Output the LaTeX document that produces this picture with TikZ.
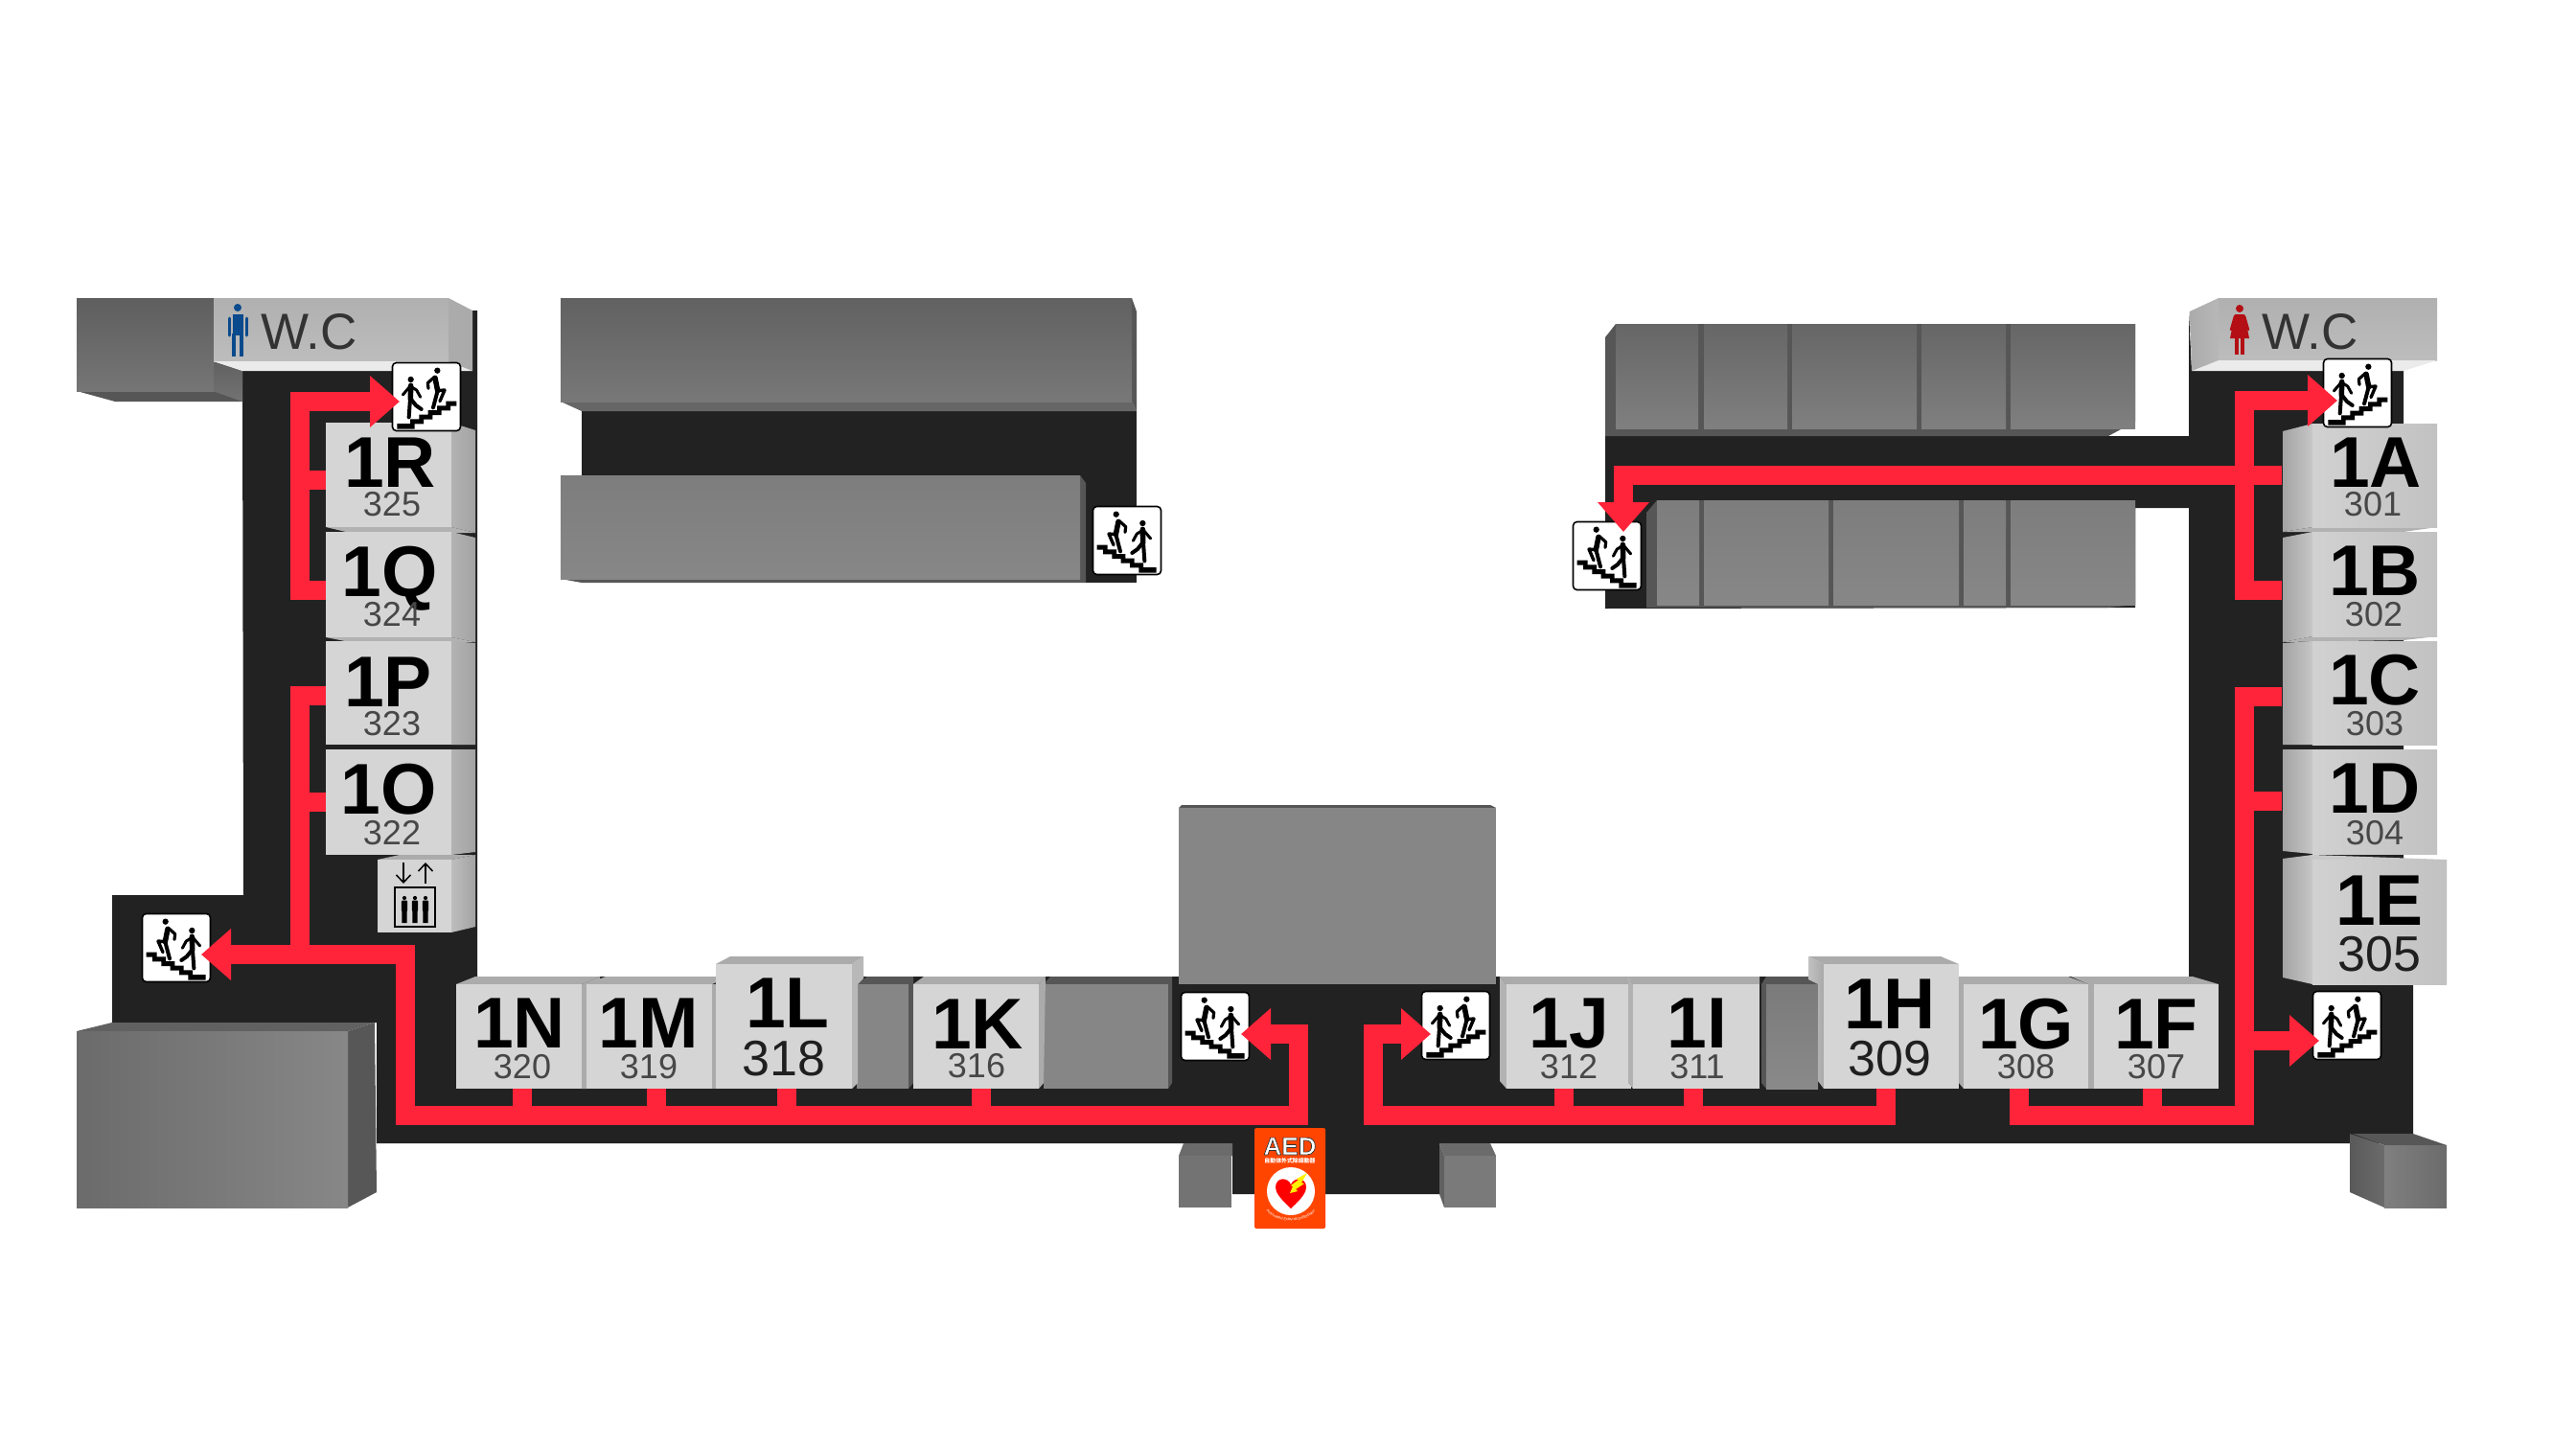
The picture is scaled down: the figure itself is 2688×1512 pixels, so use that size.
\documentclass[tikz,border=0pt]{standalone}
\usepackage{fontspec}
\setmainfont{Liberation Sans}
\newfontfamily\cjkfont{Noto Sans CJK TC}
\usetikzlibrary{arrows.meta,decorations.text}
\definecolor{floorc}{HTML}{222222}
\definecolor{routec}{HTML}{FF2439}
\definecolor{roomc}{HTML}{D5D5D5}
\definecolor{sidec}{HTML}{ABABAB}
\definecolor{darkside}{HTML}{565656}
\definecolor{midgrey}{HTML}{868686}
\definecolor{aedc}{HTML}{FF4500}
\definecolor{wcblue}{HTML}{0B4A8C}
\definecolor{wcred}{HTML}{B30F14}
\tikzset{
  roomface/.style={fill=roomc,inner sep=0pt,outer sep=0pt,anchor=north west,draw=none},
  letterlab/.style={anchor=base,inner sep=0pt,font=\bfseries\fontsize{75}{75}\selectfont,text=black},
  numlab/.style={anchor=base,inner sep=0pt,font=\fontsize{36}{36}\selectfont,text=black!72},
  bignum/.style={font=\fontsize{52}{52}\selectfont,text=black!88},
  wclab/.style={anchor=base west,inner sep=0pt,font=\fontsize{53}{53}\selectfont,text=black!80},
  signbox/.style={draw=black,line width=1.6pt,fill=white,rounded corners=4pt,minimum width=71pt,minimum height=71pt,inner sep=0pt},
  route/.style={draw=routec,line width=20pt,line cap=butt,line join=miter},
  headr/.style={-{Triangle[length=31pt,width=52pt]}},
  headl/.style={{Triangle[length=31pt,width=52pt]}-{Triangle[length=31pt,width=52pt]}},
  walkers/.pic={
    \begin{scope}[shift={(-111,-111)}]
      \fill[black] (19,195)--(60,195)--(60,181)--(88,181)--(88,167)--(116,167)--(116,153)--(144,153)--(144,139)--(172,139)--(172,125)--(205,125)--(205,140)--(186,140)--(186,154)--(158,154)--(158,168)--(130,168)--(130,182)--(102,182)--(102,196)--(74,196)--(74,212)--(19,212)--cycle;
      \fill[black] (62,57) circle (9.5) (145,29) circle (9.5);
      \draw[line width=5.5pt,line cap=round] (62,76)--(61,118);
      \draw[line width=3pt,line cap=round,line join=round] (37,105)--(60,78)--(80,90)--(92,112);
      \draw[line width=4pt,line cap=round,line join=round] (60,118)--(56,175);
      \draw[line width=4pt,line cap=round,line join=round] (62,118)--(78,138)--(95,150);
      \draw[line width=5.5pt,line cap=round] (138,52)--(146,92);
      \draw[line width=3.2pt,line cap=round,line join=round] (135,50)--(115,68)--(117,85);
      \draw[line width=4pt,line cap=round] (146,92)--(132,145);
      \draw[line width=3.4pt,line cap=round,line join=round] (146,92)--(168,90)--(153,125);
    \end{scope}
  },
  personfig/.pic={
    \fill (0,-13) circle (2.1);
    \fill[rounded corners=1pt] (-3.2,-10.5) rectangle (3.2,1);
    \fill (-2.6,0) rectangle (-0.2,13) (0.2,0) rectangle (2.6,13);
  }
}
\newcommand\roombox[9][]{%
  \node[roomface,minimum width=#5pt,minimum height=#6pt] (r#2) at (#3,#4) {};
  \node[letterlab] (l#2) at (#7,#8) {#2};
  \def\tmpnum{#9}\def\tmpstyle{#1}\def\tmpname{#2}\roomnum}
\newcommand\roomnum[2]{\expandafter\nodenum\expandafter{\tmpstyle}{#1}{#2}}
\newcommand\nodenum[3]{\node[numlab,#1] (n\tmpname) at (#2,#3) {\tmpnum};}
\begin{document}
\begin{tikzpicture}[x=1pt,y=-1pt]
\useasboundingbox (0,0) rectangle (2688,1512);
\fill[white] (0,0) rectangle (2688,1512);

% ---------- floor ----------
\fill[floorc] (253,387)--(493,387)--(493,324)--(498,324)--(498,1019)--(2284,1019)--(2284,325)--(2287,387)--(2508,387)--(2508,1027)--(2518,1027)--(2518,1193)--(1502,1193)--(1502,1246)--(1286,1246)--(1286,1193)--(393,1193)--(393,1067)--(117,1067)--(117,934)--(254,934)--cycle;
\fill[floorc] (1675,455)--(2290,455)--(2290,530)--(2228,530)--(2228,634)--(1675,635)--cycle;
\fill[floorc] (607,429) rectangle (1186,608);

% ---------- upper left grey block ----------
\fill[darkside] (222,377)--(253,387)--(253,419)--(120,419)--(80,408)--(222,408)--cycle;
\shade[top color=black!62,bottom color=black!55] (222,377)--(253,387)--(253,419)--(222,408)--cycle;
\shade[top color=black!63,bottom color=black!54] (80,311) rectangle (223,408);

% ---------- WC blocks ----------
\shade[top color=black!31,bottom color=black!26] (223,311) rectangle (468,377);
\fill[black!8] (223,377)--(468,377)--(493,387)--(253,387)--cycle;
\fill[sidec] (468,311)--(493,324)--(493,387)--(468,377)--cycle;
\shade[top color=black!31,bottom color=black!26] (2315,311) rectangle (2543,376);
\fill[black!8] (2315,376)--(2543,376)--(2508,387)--(2287,387)--cycle;
\shade[left color=black!33,right color=black!28] (2285,325)--(2315,311)--(2315,376)--(2287,387)--cycle;
\node[wclab] (wcleft) at (272,364) {W.C};
\node[wclab] (wcright) at (2360,364) {W.C};
% man
\fill[wcblue] (248,321) circle (4);
\draw[wcblue,line width=11pt] (248,328)--(248,350);
\draw[wcblue,line width=3pt,line cap=round] (239,332)--(239,350) (257,332)--(257,350);
\draw[wcblue,line width=4.5pt] (244,348)--(244,372) (252,348)--(252,372);
% woman
\fill[wcred] (2337,322) circle (4);
\fill[wcred] (2332,328)--(2342,328)--(2347,353)--(2327,353)--cycle;
\draw[wcred,line width=2.5pt,line cap=round] (2332,330)--(2328,344) (2342,330)--(2346,344);
\draw[wcred,line width=3.5pt] (2334,352)--(2334,370) (2340,352)--(2340,370);

% ---------- central top grey blocks ----------
\fill[black!60] (585,419)--(1181,419)--(1186,429)--(607,429)--cycle;
\fill[darkside] (1181,311)--(1186,325)--(1186,429)--(1181,419)--cycle;
\shade[top color=black!62,bottom color=black!53] (585,311) rectangle (1181,419);
\fill[darkside] (585,604)--(1127,604)--(1127,496)--(1133,504)--(1133,608)--(607,608)--cycle;
\shade[top color=black!51,bottom color=black!47] (585,496) rectangle (1127,604);

% ---------- grey blocks upper right ----------
\fill[darkside] (1686,338)--(2228,338)--(2228,440)--(2200,455)--(1675,455)--(1675,352)--cycle;
\foreach \a/\b in {1686/1772,1778/1865,1870/2000,2005/2093,2098/2228}
  \shade[top color=black!60,bottom color=black!50] (\a,338) rectangle (\b,447);
\fill[darkside] (1729,522)--(2228,522)--(2228,631)--(2200,634)--(1718,634)--(1718,535)--cycle;
\foreach \a/\b in {1729/1773,1778/1908,1913/2044,2049/2093,2098/2228}
  \shade[top color=black!51,bottom color=black!47] (\a,522) rectangle (\b,631);

% ---------- central big block ----------
\fill[darkside] (1230,843)--(1233,840)--(1555,840)--(1561,843)--cycle;
\fill[midgrey] (1230,843) rectangle (1561,1027);

% ---------- lower left big block ----------
\fill[black!62] (80,1076)--(117,1067)--(391,1067)--(363,1076)--cycle;
\fill[black!66] (363,1076)--(391,1067)--(393,1244)--(363,1260)--cycle;
\shade[left color=black!58,right color=black!47] (80,1076) rectangle (363,1260);

% ---------- small pillars ----------
\fill[black!58] (1230,1206)--(1235,1193)--(1286,1193)--(1286,1206)--cycle;
\fill[black!55] (1230,1206) rectangle (1285,1260);
\fill[black!58] (1502,1193)--(1555,1193)--(1561,1206)--(1507,1206)--cycle;
\fill[black!62] (1502,1193)--(1507,1206)--(1507,1260)--(1502,1246)--cycle;
\fill[black!52] (1507,1206) rectangle (1561,1260);
\fill[black!66] (2455,1183)--(2518,1183)--(2553,1195)--(2488,1195)--cycle;
\shade[left color=black!65,right color=black!58] (2452,1183)--(2488,1195)--(2488,1260)--(2452,1244)--cycle;
\shade[left color=black!50,right color=black!58] (2488,1195) rectangle (2553,1260);

% ---------- bottom row grey blocks ----------
\fill[darkside] (894,1027)--(905,1019)--(953,1019)--(953,1130)--(948,1136)--(948,1027)--cycle;
\fill[midgrey] (894,1027) rectangle (948,1136);
\fill[darkside] (1089,1027)--(1096,1019)--(1223,1019)--(1223,1130)--(1219,1136)--(1219,1027)--cycle;
\fill[midgrey] (1089,1027) rectangle (1219,1136);
\fill[darkside] (1838,1027)--(1843,1019)--(1897,1019)--(1897,1027)--(1843,1027)--(1843,1136)--(1838,1130)--cycle;
\shade[top color=black!52,bottom color=black!46] (1843,1027) rectangle (1897,1136);

% ---------- left column rooms ----------
\fill[black!30] (340,550)--(471,550)--(496,556)--(365,556)--cycle;
\fill[black!30] (340,665)--(471,665)--(496,670)--(365,670)--cycle;
\foreach \t/\b/\tt/\bb in {441/550/449/556,555/665/561/670,669/777/671/777,782/892/782/889}
  \shade[left color=black!30,right color=black!36] (471,\t)--(496,\tt)--(496,\bb)--(471,\b)--cycle;
\roombox{1R}{340}{441}{131}{109}{407}{508}{325}{409}{538}
\roombox{1Q}{340}{555}{131}{110}{407}{622}{324}{409}{653}
\roombox{1P}{340}{669}{131}{108}{405}{737}{323}{409}{767}
\roombox{1O}{340}{782}{131}{110}{406}{849}{322}{409}{881}

% elevator
\fill[sidec] (394,897)--(417,892)--(496,892)--(471,897)--cycle;
\shade[left color=black!26,right color=black!36] (471,897)--(496,892)--(496,967)--(471,973)--cycle;
\node[roomface,minimum width=77pt,minimum height=76pt] (lift) at (394,897) {};
\draw[black,line width=1.5pt,-{Straight Barb[length=8pt,width=15pt]}] (421,900)--(421,922);
\draw[black,line width=1.5pt,-{Straight Barb[length=8pt,width=15pt]}] (444,922)--(444,900);
\draw[black,line width=2pt,fill=roomc] (412,926) rectangle (454,967);
\foreach \px in {422,433,444} \pic[black] at (\px,950) {personfig};

% ---------- right column rooms ----------
\fill[black!30] (2382,555)--(2413,550)--(2543,550)--(2508,555)--cycle;
\fill[black!30] (2382,670)--(2413,664)--(2543,664)--(2508,668)--cycle;
\foreach \t/\b/\tt/\bb in {442/550/450/555,555/664/561/670,669/777/671/777,782/891/782/888,892/1027/896/1020}
  \shade[left color=black!36,right color=black!22] (2382,\tt)--(2413,\t)--(2413,\b)--(2382,\bb)--cycle;
\tikzset{roomface/.append style={left color=black!18,right color=black!24}}
\roombox{1A}{2413}{442}{130}{108}{2479}{508}{301}{2476}{538}
\roombox{1B}{2413}{555}{130}{109}{2478}{621}{302}{2477}{653}
\roombox{1C}{2413}{669}{130}{108}{2478}{735}{303}{2478}{767}
\roombox{1D}{2413}{782}{130}{109}{2478}{848}{304}{2478}{881}
\fill[black!21] (2413,892)--(2553,897)--(2553,1027)--(2413,1027)--cycle;
\roombox[bignum]{1E}{2413}{897}{140}{130}{2483}{965}{305}{2483}{1013}
\tikzset{roomface/.style={fill=roomc,inner sep=0pt,outer sep=0pt,anchor=north west,draw=none}}

% ---------- bottom row rooms ----------
\fill[sidec] (476,1027)--(496,1019)--(626,1019)--(607,1027)--cycle;
\fill[sidec] (607,1027)--(626,1019)--(626,1130)--(612,1136)--(607,1136)--cycle;
\fill[sidec] (612,1027)--(632,1019)--(762,1019)--(743,1027)--cycle;
\fill[sidec] (743,1027)--(748,1027)--(748,1136)--(743,1136)--cycle;
\roombox{1N}{476}{1027}{131}{109}{542}{1093}{320}{545}{1125}
\roombox{1M}{612}{1027}{131}{109}{677}{1093}{319}{677}{1125}
\fill[sidec] (747,1006)--(762,998)--(901,998)--(889,1006)--cycle;
\fill[black!28] (889,1006)--(901,998)--(901,1021)--(895,1027)--(895,1130)--(889,1136)--cycle;
\roombox[bignum]{1L}{747}{1006}{142}{130}{822}{1072}{318}{818}{1122}
\fill[sidec] (953,1027)--(964,1019)--(1091,1019)--(1084,1027)--cycle;
\fill[sidec] (1084,1027)--(1091,1019)--(1089,1130)--(1084,1136)--cycle;
\roombox{1K}{953}{1027}{131}{109}{1020}{1094}{316}{1019}{1124}
\fill[sidec] (1572,1027)--(1565,1019)--(1702,1019)--(1702,1027)--cycle;
\fill[black!30] (1565,1019)--(1572,1027)--(1572,1136)--(1565,1128)--cycle;
\roombox{1J}{1572}{1027}{130}{109}{1637}{1093}{312}{1637}{1125}
\fill[sidec] (1704,1027)--(1699,1019)--(1836,1019)--(1836,1027)--cycle;
\fill[black!30] (1699,1019)--(1704,1027)--(1704,1136)--(1699,1130)--cycle;
\roombox{1I}{1704}{1027}{132}{109}{1771}{1093}{311}{1771}{1125}
\fill[sidec] (1887,998)--(2025,998)--(2044,1006)--(1903,1006)--cycle;
\shade[left color=black!24,right color=black!34] (1887,998)--(1903,1006)--(1903,1136)--(1897,1128)--(1897,1027)--(1887,1022)--cycle;
\roombox[bignum]{1H}{1903}{1006}{141}{130}{1972}{1073}{309}{1972}{1122}
\fill[sidec] (2044,1027)--(2044,1019)--(2158,1019)--(2179,1027)--cycle;
\fill[sidec] (2044,1027)--(2049,1027)--(2049,1136)--(2044,1130)--cycle;
\roombox{1G}{2049}{1027}{130}{109}{2114}{1094}{308}{2114}{1125}
\fill[sidec] (2161,1019)--(2288,1019)--(2315,1027)--(2179,1027)--cycle;
\fill[sidec] (2179,1027)--(2185,1027)--(2185,1136)--(2179,1136)--cycle;
\roombox{1F}{2185}{1027}{130}{109}{2250}{1094}{307}{2250}{1125}

% ---------- stair signs ----------
\foreach \nm/\cx/\cy/\sx in {sa/445/414/1,sb/184/989/-1,sc/1268/1071/-1,sd/1519/1070/1,se/1176/564/-1,sf/1677/580/-1,sg/2460/410/1,sh/2449/1070/1}{
  \node[signbox] (\nm) at (\cx,\cy) {};
  \pic[scale=.3333,xscale=\sx] at (\nm) {walkers};
}

% ---------- routes ----------
\coordinate (tipa) at (417,419);
\coordinate (tipb) at (210,996);
\coordinate (tipc) at (1295,1079);
\coordinate (tipd) at (1493,1079);
\coordinate (tipf) at (1694,555);
\coordinate (tipg) at (2439,418);
\coordinate (tiph) at (2420,1086);
\draw[route,headr] (340,616) -- (313,616) -- (313,419) -- (tipa);
\draw[route] (313,501) -- (340,501);
\draw[route] (340,726) -- (313,726) -- (313,996);
\draw[route] (313,837) -- (340,837);
\draw[route,headl] (tipb) -- (423,996) -- (423,1164) -- (1355,1164) -- (1355,1079) -- (tipc);
\foreach \xx in {545,685,821,1024} \draw[route] (\xx,1164) -- (\xx,1136);
\draw[route,headr] (1968,1136) -- (1968,1164) -- (1433,1164) -- (1433,1079) -- (tipd);
\foreach \xx in {1632,1767} \draw[route] (\xx,1164) -- (\xx,1136);
\draw[route,headr] (2381,616) -- (2342,616) -- (2342,418) -- (tipg);
\draw[route,headr] (2381,496) -- (1694,496) -- (tipf);
\draw[route] (2381,727) -- (2342,727) -- (2342,1164) -- (2107,1164) -- (2107,1136);
\draw[route] (2342,836) -- (2381,836);
\draw[route] (2246,1164) -- (2246,1136);
\draw[route,headr] (2342,1086) -- (tiph);

% ---------- AED ----------
\fill[aedc,rounded corners=1.5pt] (1309,1177) rectangle (1383,1282);
\node[inner sep=0pt,anchor=base] (aedword) at (1346,1205) {\fontsize{26}{26}\bfseries\selectfont\special{pdf:code q 2 Tr 0.7 w 0.2 0.2 0.2 RG 1 1 1 rg}AED\special{pdf:code Q}};
\node[inner sep=0pt,text=white] (aedjp) at (1346,1211) {\fontsize{5.9}{6}\selectfont\cjkfont\bfseries 自動体外式除細動器};
\fill[white] (1347,1243) circle (25);
\fill[red] (1347,1261) .. controls (1335,1250) and (1331,1244) .. (1331,1239) .. controls (1331,1228) and (1344,1228) .. (1347,1236) .. controls (1350,1228) and (1363,1228) .. (1363,1239) .. controls (1363,1244) and (1359,1250) .. (1347,1261) -- cycle;
\fill[yellow] (1364,1224)--(1358,1234)--(1361,1235)--(1352,1241)--(1354,1243)--(1346,1245)--(1349,1238)--(1347,1237)--(1355,1231)--(1353,1230)--cycle;
\path[decorate,decoration={text along path,text align=center,text={|\fontsize{4}{4}\selectfont\color{white}|Automated External Defibrillator}}] (1316,1256) .. controls (1327,1280) and (1367,1280) .. (1378,1256);
\end{tikzpicture}
\end{document}
